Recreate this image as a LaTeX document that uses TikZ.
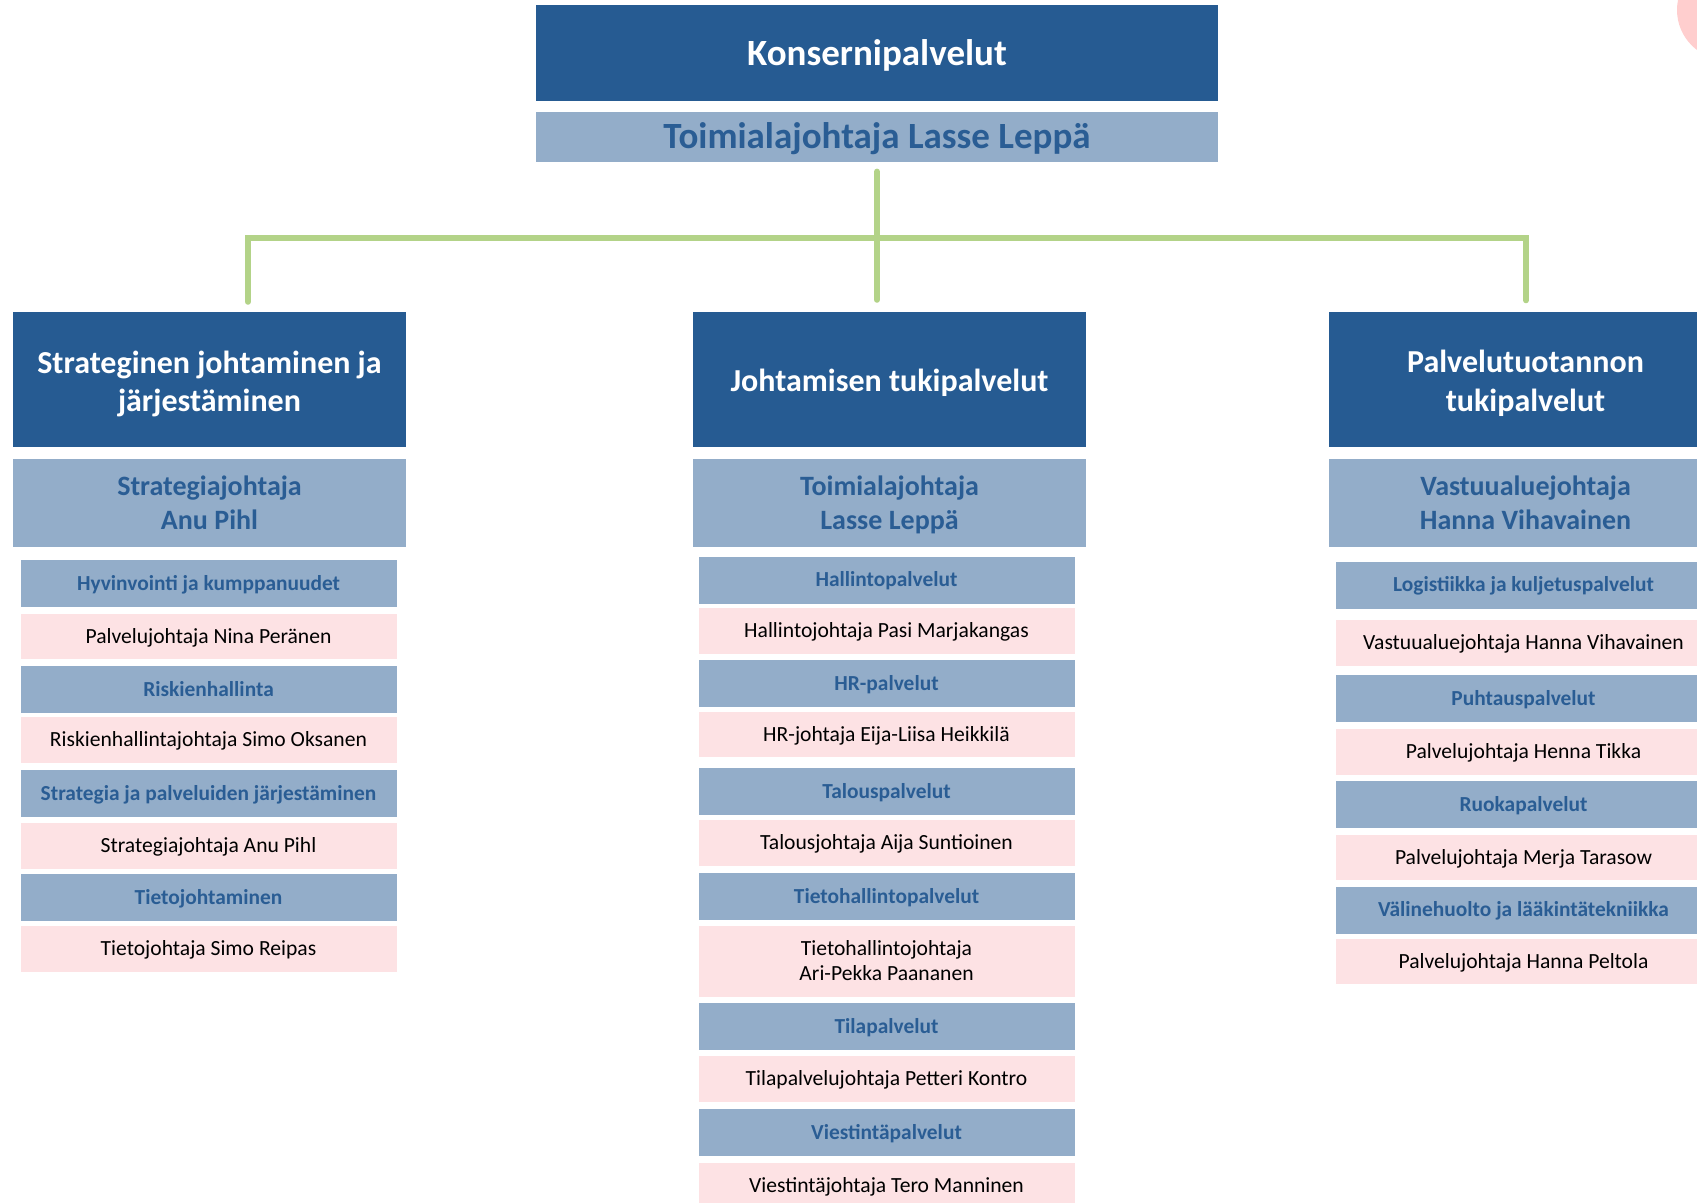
\documentclass[tikz,border=0pt]{standalone}
\usepackage{fontspec}
\setmainfont{Carlito}
\usepackage{tikz}
\usetikzlibrary{positioning}

\definecolor{tummasininen}{RGB}{38,91,146}
\definecolor{vaaleasininen}{RGB}{147,173,201}
\definecolor{tekstisininen}{RGB}{42,93,148}
\definecolor{vaaleapunainen}{RGB}{253,226,228}
\definecolor{vihrea}{RGB}{179,211,136}
\definecolor{ympyra}{RGB}{255,206,206}

\begin{document}
\begin{tikzpicture}[x=1pt, y=-1pt,
  konserni/.style={rectangle, fill=tummasininen, text=white, minimum width=682pt,
                   minimum height=96pt, inner sep=0pt, text height=24pt, text depth=0pt,
                   font=\fontsize{37}{44}\selectfont\bfseries},
  toimiala/.style={rectangle, fill=vaaleasininen, text=tekstisininen, minimum width=682pt,
                   minimum height=50.5pt, inner sep=0pt, text height=23.4pt, text depth=0pt,
                   font=\fontsize{37}{44}\selectfont\bfseries},
  yksikko/.style={rectangle, fill=tummasininen, text=white, minimum width=393pt,
                  minimum height=135pt, inner sep=0pt, align=center, text height=25.6pt,
                  text depth=0pt, font=\fontsize{32}{38.5}\selectfont\bfseries},
  johtaja/.style={rectangle, fill=vaaleasininen, text=tekstisininen, minimum width=393pt,
                  minimum height=88pt, inner sep=0pt, align=center, text height=52.4pt,
                  text depth=0pt, font=\fontsize{28}{34}\selectfont\bfseries},
  tulos/.style={rectangle, fill=vaaleasininen, text=tekstisininen, minimum width=376pt,
                minimum height=47pt, inner sep=0pt, text height=13.6pt, text depth=0pt,
                font=\fontsize{21.4}{25}\selectfont\bfseries},
  henkilo/.style={rectangle, fill=vaaleapunainen, text=black, minimum width=376pt,
                  minimum height=45.5pt, inner sep=0pt, align=center, text height=13.6pt,
                  text depth=0pt, font=\fontsize{21.6}{25}\selectfont},
  runko/.style={draw=vihrea, line width=6pt, line cap=round},
  node distance=5.5pt
]
  \useasboundingbox (0,0) rectangle (1697,1202);
  \clip (0,0) rectangle (1697,1202);
  \fill[ympyra] (1727,10) circle (50pt);

  \node[konserni] (konserni) at (877,53) {Konsernipalvelut};
  \node[toimiala, below=10.5pt of konserni] (toimiala) {Toimialajohtaja Lasse Leppä};

  \node[yksikko, text height=64pt] (strategia) at (209.5,379.5) {Strateginen johtaminen ja\\järjestäminen};
  \node[yksikko] (tuki) at (889.5,379) {Johtamisen tukipalvelut};
  \node[yksikko, text height=64pt] (tuotanto) at (1525.5,379) {Palvelutuotannon\\tukipalvelut};

  \node[johtaja, below=12pt of strategia] (pihl) {Strategiajohtaja\\Anu Pihl};
  \node[johtaja, below=12pt of tuki] (leppa) {Toimialajohtaja\\Lasse Leppä};
  \node[johtaja, below=12pt of tuotanto] (vihavainen) {Vastuualuejohtaja\\Hanna Vihavainen};

  \node[tulos, below=12.3pt of pihl, xshift=-1pt] (hyvinvointi) {Hyvinvointi ja kumppanuudet};
  \node[henkilo, below=6pt of hyvinvointi] (peranen) {Palvelujohtaja Nina Peränen};
  \node[tulos, below=7pt of peranen] (riski) {Riskienhallinta};
  \node[henkilo, below=3.5pt of riski] (oksanen) {Riskienhallintajohtaja Simo Oksanen};
  \node[tulos, below=7pt of oksanen] (jarjestaminen) {Strategia ja palveluiden järjestäminen};
  \node[henkilo, below=5.5pt of jarjestaminen] (pihl2) {Strategiajohtaja Anu Pihl};
  \node[tulos, below=5pt of pihl2] (tieto) {Tietojohtaminen};
  \node[henkilo, below=5pt of tieto] (reipas) {Tietojohtaja Simo Reipas};

  \node[tulos, below=9.3pt of leppa, xshift=-3pt] (hallinto) {Hallintopalvelut};
  \node[henkilo, below=4pt of hallinto] (marjakangas) {Hallintojohtaja Pasi Marjakangas};
  \node[tulos, below=6.5pt of marjakangas] (hr) {HR-palvelut};
  \node[henkilo, below=4pt of hr] (heikkila) {HR-johtaja Eija-Liisa Heikkilä};
  \node[tulos, below=10pt of heikkila] (talous) {Talouspalvelut};
  \node[henkilo, below=5pt of talous] (suntioinen) {Talousjohtaja Aija Suntioinen};
  \node[tulos, below=7pt of suntioinen] (tietohallinto) {Tietohallintopalvelut};
  \node[henkilo, below=5.5pt of tietohallinto, minimum height=71pt, text height=38.6pt] (paananen) {Tietohallintojohtaja\\Ari-Pekka Paananen};
  \node[tulos, below=6pt of paananen] (tila) {Tilapalvelut};
  \node[henkilo, below=5.5pt of tila] (kontro) {Tilapalvelujohtaja Petteri Kontro};
  \node[tulos, below=7pt of kontro] (viestinta) {Viestintäpalvelut};
  \node[henkilo, below=6.5pt of viestinta] (manninen) {Viestintäjohtaja Tero Manninen};

  \node[tulos, below=14.3pt of vihavainen, xshift=-2pt] (logistiikka) {Logistiikka ja kuljetuspalvelut};
  \node[henkilo, below=11pt of logistiikka] (vihavainen2) {Vastuualuejohtaja Hanna Vihavainen};
  \node[tulos, below=9pt of vihavainen2] (puhtaus) {Puhtauspalvelut};
  \node[henkilo, below=7pt of puhtaus] (tikka) {Palvelujohtaja Henna Tikka};
  \node[tulos, below=5.5pt of tikka] (ruoka) {Ruokapalvelut};
  \node[henkilo, below=6.5pt of ruoka] (tarasow) {Palvelujohtaja Merja Tarasow};
  \node[tulos, below=6pt of tarasow] (valinehuolto) {Välinehuolto ja lääkintätekniikka};
  \node[henkilo, below=5pt of valinehuolto] (peltola) {Palvelujohtaja Hanna Peltola};

  \coordinate (haaraV) at (248,238);
  \coordinate (haaraO) at (1526,238);
  \draw[runko, shorten <=9pt, shorten >=11.5pt] (toimiala.south) -- (toimiala.south |- tuki.north);
  \draw[runko, shorten <=10pt, shorten >=11pt] (haaraV |- strategia.north) -- (haaraV) -- (haaraO) -- (haaraO |- tuotanto.north);
\end{tikzpicture}
\end{document}
